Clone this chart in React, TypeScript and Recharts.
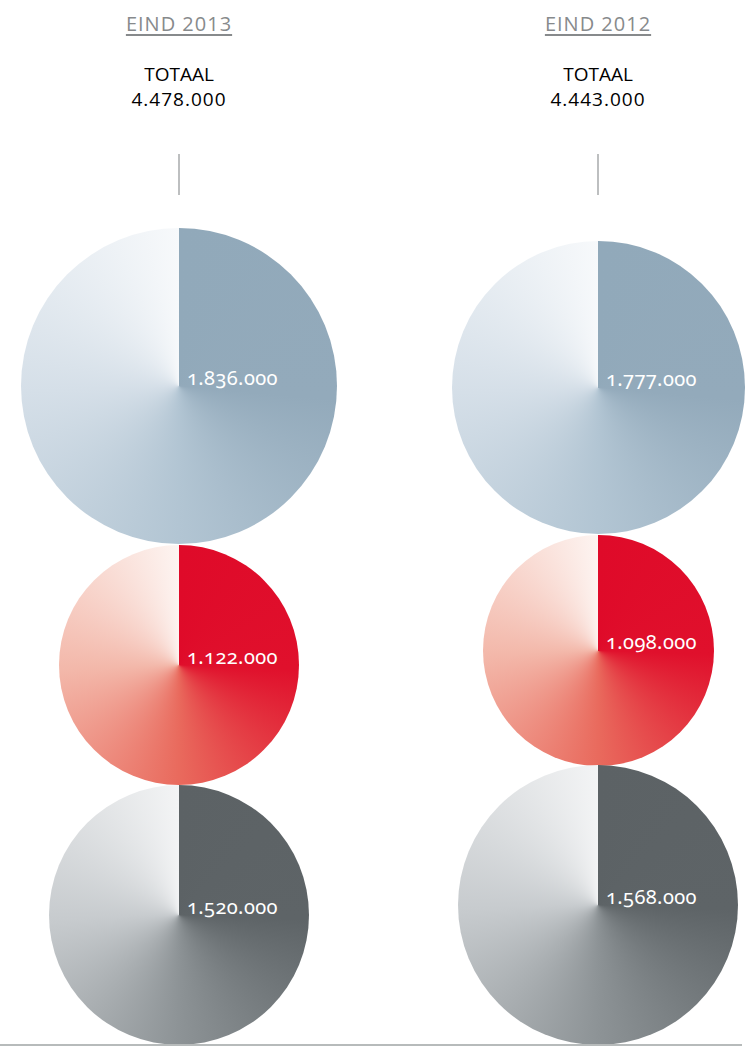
import { PieChart, Pie } from 'recharts';

const years = ['EIND 2013', 'EIND 2012'];
const segments = ['Blauw', 'Rood', 'Grijs'];
const values2013 = [1836000, 1122000, 1520000];
const values2012 = [1777000, 1098000, 1568000];

const seriesByYear = [values2013, values2012];

// layout: column centres and circle geometry (pixels)
const columnX = [179, 598];
const circleY = [
  [386, 665, 915],
  [387, 650, 905],
];
const circleR = [
  [158, 120, 130],
  [146.5, 115.5, 140],
];

const gradients = [
  'conic-gradient(from 0deg, #91a9ba 0deg, #93aabb 95deg, #b2c5d3 180deg, #d5dfe8 268deg, #f7f9fb 360deg)',
  'conic-gradient(from 0deg, #df0a29 0deg, #e0102c 92deg, #e96a5d 180deg, #f3b8aa 268deg, #fdf4f1 360deg)',
  'conic-gradient(from 0deg, #5c6265 0deg, #5e6467 92deg, #8d9396 180deg, #c7cbce 268deg, #f3f4f5 360deg)',
];

const fmt = (v: number) => String(v).replace(/\B(?=(\d{3})+(?!\d))/g, '.');

const renderDisk = (gradient: string) => (props: any) => {
  const { cx, cy, outerRadius, value } = props;
  return (
    <g>
      <foreignObject x={cx - outerRadius} y={cy - outerRadius} width={outerRadius * 2} height={outerRadius * 2}>
        <div style={{ width: '100%', height: '100%', borderRadius: '50%', background: gradient }} />
      </foreignObject>
      <text
        x={cx + 8}
        y={cy - 1}
        fill="#fff"
        fontSize={20}
        letterSpacing={0.4}
        fontFamily="'Noto Sans', sans-serif"
        style={{ fontVariantNumeric: 'oldstyle-nums' }}
      >
        {fmt(value)}
      </text>
    </g>
  );
};

const headerText: React.CSSProperties = {
  position: 'absolute',
  width: 240,
  textAlign: 'center',
  fontFamily: "'Open Sans', sans-serif",
  fontSize: 19,
  lineHeight: '25px',
};

export default function App() {
  return (
    <div style={{ position: 'absolute', left: 0, top: 0, width: 750, height: 1050, background: '#fff' }}>
      <PieChart width={750} height={1050} margin={{ top: 0, right: 0, bottom: 0, left: 0 }}>
        {seriesByYear.map((values, col) =>
          values.map((v, i) => (
            <Pie
              key={`${col}-${i}`}
              data={[{ name: segments[i], value: v }]}
              dataKey="value"
              cx={columnX[col]}
              cy={circleY[col][i]}
              outerRadius={circleR[col][i]}
              innerRadius={0}
              startAngle={90}
              endAngle={-270}
              fill="none"
              stroke="none"
              label={renderDisk(gradients[i])}
              labelLine={false}
              isAnimationActive={false}
            />
          ))
        )}
      </PieChart>

      {years.map((year, col) => {
        const total = seriesByYear[col].reduce((a, b) => a + b, 0);
        const left = columnX[col] - 120;
        return (
          <div key={year}>
            <div
              style={{
                ...headerText,
                left,
                top: 11,
                color: '#878a8c',
                fontSize: 20,
                letterSpacing: 1,
                textDecoration: 'underline',
                textUnderlineOffset: 3,
              }}
            >
              {year}
            </div>
            <div style={{ ...headerText, left, top: 62, color: '#000' }}>TOTAAL</div>
            <div style={{ ...headerText, left, top: 87, color: '#000', letterSpacing: 1 }}>{fmt(total)}</div>
            <div
              style={{ position: 'absolute', left: columnX[col] - 1, top: 154, width: 2, height: 41, background: '#bdbfc0' }}
            />
          </div>
        );
      })}

      <div style={{ position: 'absolute', left: 0, top: 1044, width: 742, height: 2, background: '#b7bbbb' }} />
    </div>
  );
}
